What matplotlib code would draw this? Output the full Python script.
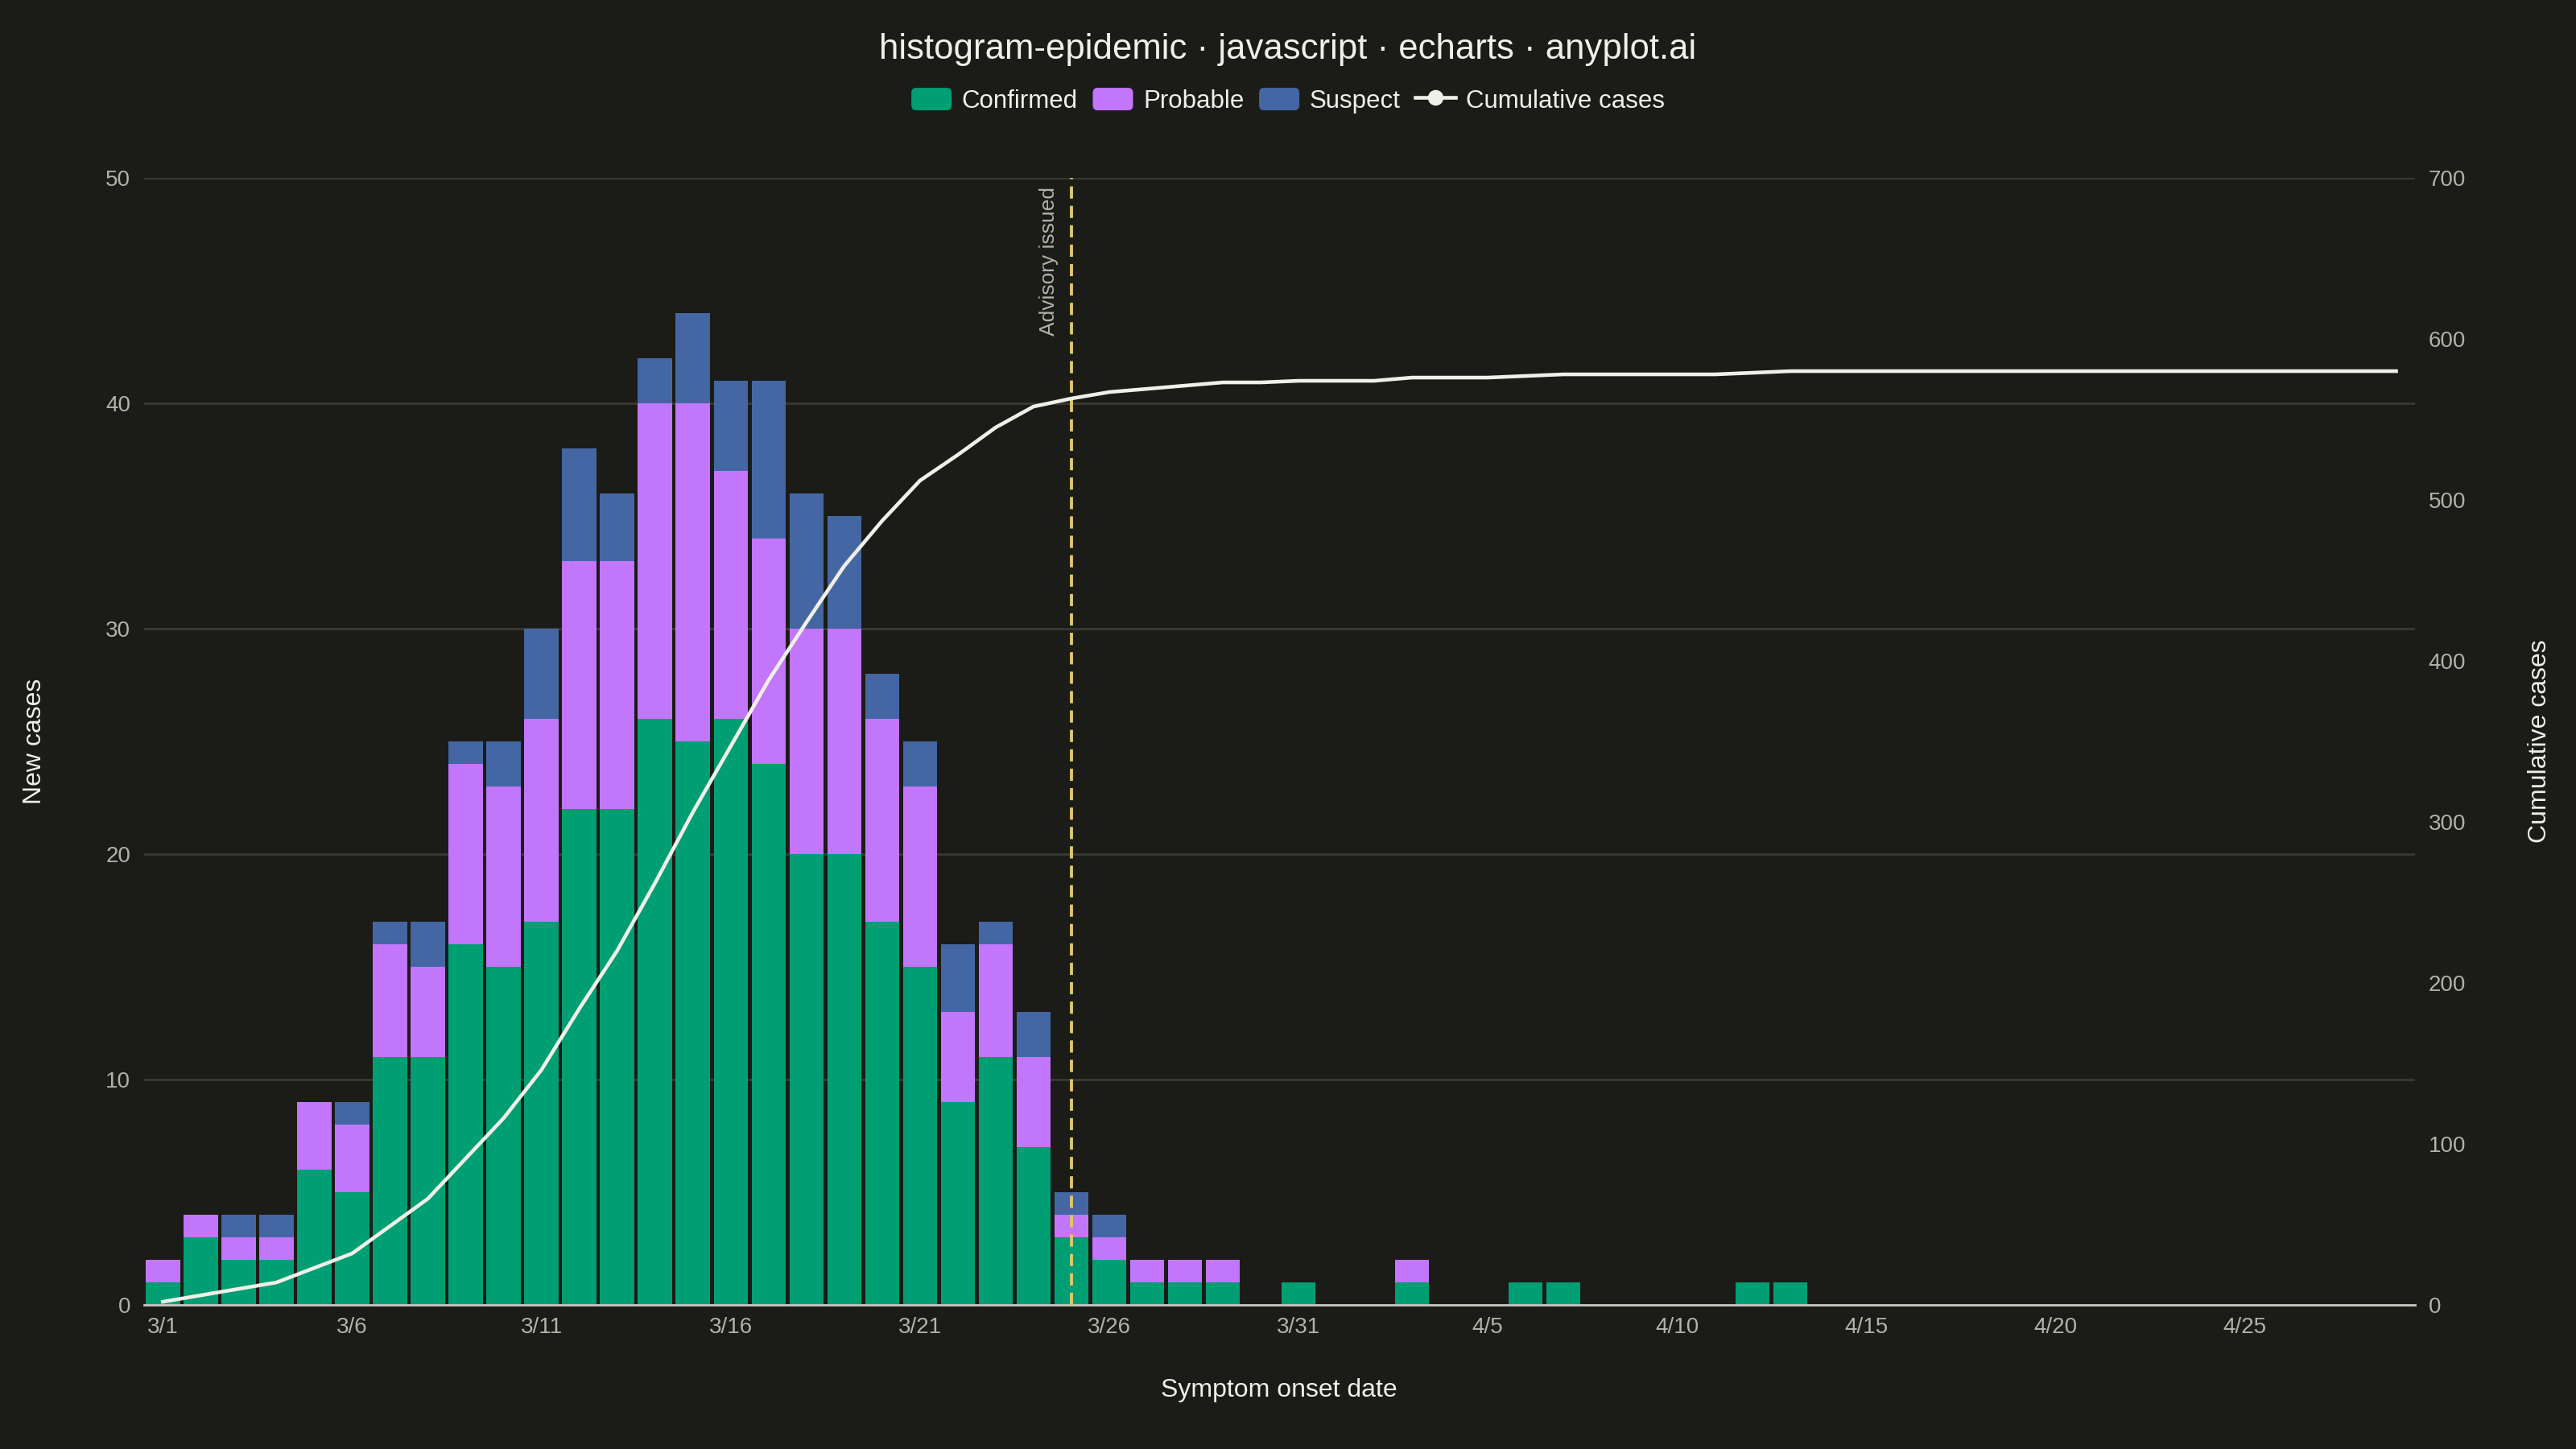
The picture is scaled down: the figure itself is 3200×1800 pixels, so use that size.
import numpy as np
import pandas as pd
import matplotlib
matplotlib.use("Agg")
import matplotlib.pyplot as plt
from matplotlib.patches import Patch, FancyBboxPatch
from matplotlib.lines import Line2D
from matplotlib.legend_handler import HandlerPatch

# ---------------- data ----------------
onset_dates = pd.date_range("2024-03-01", periods=60, freq="D")
confirmed = [1, 3, 2, 2, 6, 5, 11, 11, 16, 15, 17, 22, 22, 26, 25, 26, 24, 20, 20, 17,
             15, 9, 11, 7, 3, 2, 1, 1, 1, 0, 1, 0, 0, 1, 0, 0, 1, 1, 0, 0,
             0, 0, 1, 1, 0, 0, 0, 0, 0, 0, 0, 0, 0, 0, 0, 0, 0, 0, 0, 0]
probable = [1, 1, 1, 1, 3, 3, 5, 4, 8, 8, 9, 11, 11, 14, 15, 11, 10, 10, 10, 9,
            8, 4, 5, 4, 1, 1, 1, 1, 1, 0, 0, 0, 0, 1, 0, 0, 0, 0, 0, 0,
            0, 0, 0, 0, 0, 0, 0, 0, 0, 0, 0, 0, 0, 0, 0, 0, 0, 0, 0, 0]
suspect = [0, 0, 1, 1, 0, 1, 1, 2, 1, 2, 4, 5, 3, 2, 4, 4, 7, 6, 5, 2,
           2, 3, 1, 2, 1, 1, 0, 0, 0, 0, 0, 0, 0, 0, 0, 0, 0, 0, 0, 0,
           0, 0, 0, 0, 0, 0, 0, 0, 0, 0, 0, 0, 0, 0, 0, 0, 0, 0, 0, 0]
series_names = ["Confirmed", "Probable", "Suspect"]
advisory_date = "2024-03-25"
advisory_label = "Advisory issued"
left_ticks = [0, 10, 20, 30, 40, 50]
right_ticks = [0, 100, 200, 300, 400, 500, 600, 700]
title = "histogram-epidemic · javascript · echarts · anyplot.ai"

# ---------------- style ----------------
BG = "#1b1b17"
FG = "#f0efe8"
MUTED = "#b3b2aa"
GRID = "#3a3a35"
C_CONF = "#009e73"
C_PROB = "#c176fb"
C_SUSP = "#4467a3"
C_ADV = "#dcc86c"

plt.rcParams["font.family"] = ["Liberation Sans", "DejaVu Sans"]

fig = plt.figure(figsize=(32, 18), dpi=100, facecolor=BG)
ax = fig.add_axes([0.0559, 0.0994, 0.9375 - 0.0559, 0.7778])
ax.set_facecolor(BG)

conf = np.array(confirmed)
prob = np.array(probable)
susp = np.array(suspect)
x = np.arange(len(onset_dates))
cumulative = np.cumsum(conf + prob + susp)

w = 0.9
ax.bar(x, conf, width=w, color=C_CONF, zorder=2)
ax.bar(x, prob, width=w, bottom=conf, color=C_PROB, zorder=2)
ax.bar(x, susp, width=w, bottom=conf + prob, color=C_SUSP, zorder=2)

ax.set_xlim(-0.5, len(x) - 0.5)
ax.set_ylim(0, 50)
ax.set_yticks(left_ticks)
ax.yaxis.grid(True, color=GRID, linewidth=2)
ax.set_axisbelow(True)

tick_idx = x[::5]
ax.set_xticks(tick_idx)
ax.set_xticklabels([f"{d.month}/{d.day}" for d in onset_dates[::5]])

for s in ["left", "right", "top"]:
    ax.spines[s].set_visible(False)
ax.spines["bottom"].set_color("#c8c7bf")
ax.spines["bottom"].set_linewidth(2)
ax.spines["bottom"].set_zorder(3)
ax.tick_params(axis="both", length=0, colors=MUTED, labelsize=20)
ax.tick_params(axis="x", pad=11)
ax.tick_params(axis="y", pad=12)

# advisory line
adv_idx = int(np.where(onset_dates == pd.Timestamp(advisory_date))[0][0])
ax.axvline(adv_idx, color=C_ADV, linewidth=2.8, linestyle=(0, (3.9, 2.3)), zorder=4)
ax.text(adv_idx - 0.33, 49.6, advisory_label, rotation=90, ha="right", va="top",
        color=MUTED, fontsize=19, zorder=5)

# cumulative line on right axis
ax2 = ax.twinx()
ax2.set_ylim(0, 700)
ax2.set_yticks(right_ticks)
ax2.plot(x, cumulative, color=FG, linewidth=3.3, zorder=5)
for s in ["left", "right", "top", "bottom"]:
    ax2.spines[s].set_visible(False)
ax2.tick_params(axis="y", length=0, colors=MUTED, labelsize=20, pad=12)

# labels
fig.text(0.5, 0.9656, title, ha="center", va="center", color=FG, fontsize=31.5)
fig.text(0.0135, 0.4883, "New cases", rotation=90, ha="center", va="center", color=FG, fontsize=23)
fig.text(0.986, 0.4883, "Cumulative cases", rotation=90, ha="center", va="center", color=FG, fontsize=23)
fig.text(0.4965, 0.0406, "Symptom onset date", ha="center", va="center", color=FG, fontsize=23)


def rounded(legend, orig_handle, xdescent, ydescent, width, height, fontsize):
    return FancyBboxPatch((-xdescent, -ydescent), width, height,
                          boxstyle=f"round,pad=0,rounding_size={height * 0.22}")


handles = [Patch(facecolor=c, edgecolor="none") for c in [C_CONF, C_PROB, C_SUSP]]
handles.append(Line2D([0], [0], color=FG, linewidth=3.3, marker="o", markersize=13,
                      markerfacecolor=FG, markeredgecolor=FG))
labels = series_names + ["Cumulative cases"]
leg = fig.legend(handles, labels, loc="center", bbox_to_anchor=(0.5, 0.9306), ncol=4,
                 frameon=False, fontsize=22.5, handlelength=1.6, handleheight=1.0,
                 handletextpad=0.4, columnspacing=0.6,
                 handler_map={Patch: HandlerPatch(patch_func=rounded)})
for t in leg.get_texts():
    t.set_color(FG)

fig.savefig("out.png", dpi=100, facecolor=BG)
